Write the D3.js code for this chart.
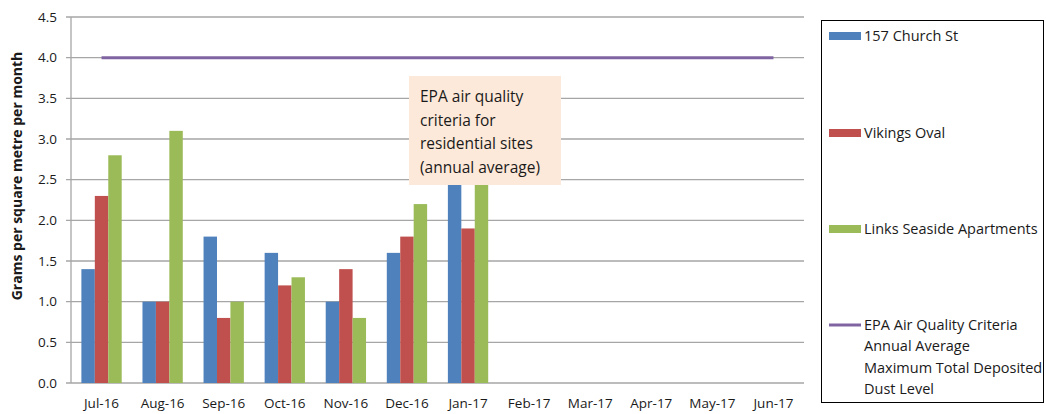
<!DOCTYPE html>
<html>
<head>
<meta charset="utf-8">
<script src="https://cdn.jsdelivr.net/npm/d3@7"></script>
<style>
  body { margin: 0; background: #fff; }
  text { font-family: "Open Sans", "DejaVu Sans", sans-serif; fill: #1a1a1a; }
</style>
</head>
<body>
<div id="chart"></div>
<script>
// data
var months = ["Jul-16", "Aug-16", "Sep-16", "Oct-16", "Nov-16", "Dec-16", "Jan-17",
  "Feb-17", "Mar-17", "Apr-17", "May-17", "Jun-17"];
var churchSt = [1.4, 1.0, 1.8, 1.6, 1.0, 1.6, 2.7];
var vikingsOval = [2.3, 1.0, 0.8, 1.2, 1.4, 1.8, 1.9];
var linksSeaside = [2.8, 3.1, 1.0, 1.3, 0.8, 2.2, 2.6];
var epaLevel = 4.0;
var yTicks = [0, 0.5, 1, 1.5, 2, 2.5, 3, 3.5, 4, 4.5];

var seriesNames = ["157 Church St", "Vikings Oval", "Links Seaside Apartments"];
var seriesColors = ["#4f81bd", "#c0504d", "#9bbb59"];
var epaColor = "#8064a2";

var W = 1046, H = 414;
var margin = { top: 17, right: 242, bottom: 31, left: 71 };
var width = W - margin.left - margin.right,
  height = H - margin.top - margin.bottom;

var svg = d3.select("#chart").append("svg")
  .attr("width", W).attr("height", H);

var g = svg.append("g")
  .attr("transform", "translate(" + margin.left + "," + margin.top + ")");

var x = d3.scaleBand().domain(months).range([0, width]).paddingInner(0.34).paddingOuter(0.17);
var xInner = d3.scaleBand().domain(d3.range(3)).range([0, x.bandwidth()]);
var xCenter = function(m) { return x(m) + x.bandwidth() / 2; };
var y = d3.scaleLinear().domain([0, 4.5]).range([height, 0]);

// gridlines
g.append("g").selectAll("line").data(yTicks).enter().append("line")
  .attr("x1", -5).attr("x2", width)
  .attr("y1", function(d) { return y(d); }).attr("y2", function(d) { return y(d); })
  .attr("stroke", "#a6a6a6").attr("stroke-width", 1.3);

// y axis line
g.append("line").attr("x1", 0).attr("x2", 0).attr("y1", 0).attr("y2", height)
  .attr("stroke", "#a6a6a6").attr("stroke-width", 1.3);

// y labels
var yAxis = d3.axisLeft(y).tickValues(yTicks).tickFormat(d3.format(".1f")).tickSize(0).tickPadding(14);
g.append("g").call(yAxis)
  .call(function(a) { a.select(".domain").remove(); })
  .selectAll("text").style("font-size", "13.5px").style("font-family", "Open Sans, sans-serif").attr("fill", "#1a1a1a");

// x labels
var xAxis = d3.axisBottom(x).tickSize(0).tickPadding(15);
g.append("g").attr("transform", "translate(0," + height + ")").call(xAxis)
  .call(function(a) { a.select(".domain").remove(); })
  .selectAll("text").style("font-size", "13.5px").style("font-family", "Open Sans, sans-serif").attr("fill", "#1a1a1a");

// bars
var series = [churchSt, vikingsOval, linksSeaside];
series.forEach(function(vals, si) {
  g.append("g").selectAll("rect").data(vals).enter().append("rect")
    .attr("x", function(d, i) { return x(months[i]) + xInner(si); })
    .attr("width", xInner.bandwidth())
    .attr("y", function(d) { return y(d); })
    .attr("height", function(d) { return y(0) - y(d); })
    .attr("fill", seriesColors[si]);
});

// EPA line
g.append("path")
  .datum(months)
  .attr("fill", "none").attr("stroke", epaColor).attr("stroke-width", 3)
  .attr("d", d3.line().x(function(m) { return xCenter(m); }).y(function() { return y(epaLevel); }));

// annotation box
var note = ["EPA air quality", "criteria for", "residential sites", "(annual average)"];
var boxX = 409, boxY = 76;
svg.append("rect").attr("x", boxX).attr("y", boxY).attr("width", 152).attr("height", 109)
  .attr("fill", "#fde9d9");
svg.append("g").selectAll("text").data(note).enter().append("text")
  .attr("x", boxX + 11).attr("y", function(d, i) { return boxY + 26 + i * 23.5; })
  .style("font-size", "15.5px").text(function(d) { return d; });

// y title
svg.append("text")
  .attr("transform", "translate(22,176) rotate(-90)")
  .attr("text-anchor", "middle").style("font-size", "14px").style("font-weight", "bold")
  .text("Grams per square metre per month");

// legend
var lg = svg.append("g");
lg.append("rect").attr("x", 821.5).attr("y", 20.5).attr("width", 222).attr("height", 382)
  .attr("fill", "#fff").attr("stroke", "#000").attr("stroke-width", 1);
var legendY = [36, 133, 229];
seriesNames.forEach(function(name, i) {
  lg.append("rect").attr("x", 829).attr("y", legendY[i] - 4).attr("width", 32).attr("height", 8)
    .attr("fill", seriesColors[i]);
  lg.append("text").attr("x", 864).attr("y", legendY[i] + 5).style("font-size", "14.5px").text(name);
});
lg.append("line").attr("x1", 829).attr("x2", 861).attr("y1", 325).attr("y2", 325)
  .attr("stroke", epaColor).attr("stroke-width", 3);
var epaLines = ["EPA Air Quality Criteria", "Annual Average", "Maximum Total Deposited", "Dust Level"];
lg.append("g").selectAll("text").data(epaLines).enter().append("text")
  .attr("x", 864).attr("y", function(d, i) { return 330 + i * 21.3; })
  .style("font-size", "14.5px").text(function(d) { return d; });
</script>
</body>
</html>
